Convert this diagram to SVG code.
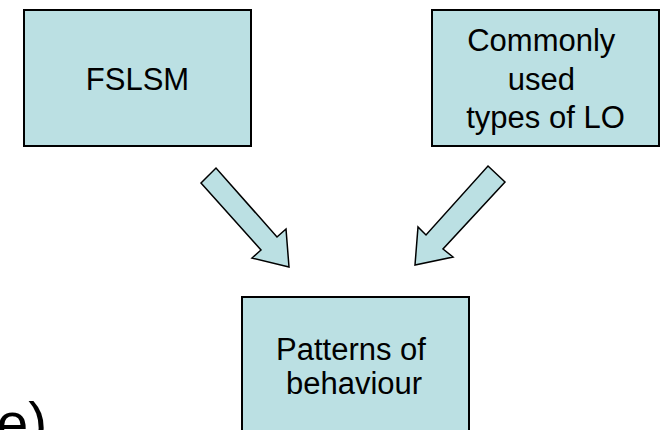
<svg xmlns="http://www.w3.org/2000/svg" width="661" height="430" viewBox="0 0 661 430">
<style>
.box{fill:#BBE0E3;stroke:#000;stroke-width:2}
.arr{fill:#BBE0E3;stroke:#000;stroke-width:1.5;stroke-linejoin:miter}
.t{font-family:"Liberation Sans",Arial,sans-serif;font-size:31px;fill:#000;text-anchor:middle}
</style>
<rect width="661" height="430" fill="#fff"/>
<text x="-3.5" y="443" style="font-family:'Liberation Sans',Arial,sans-serif;font-size:57px;fill:#000">e)</text>
<g id="connectors">
<polygon class="arr" points="201,183 216,168 277,237 286,229 289,267 252,258 261,250"/>
<polygon class="arr" points="488,166 505,182 443,249 453,257 415,265 418,227 426,235"/>
</g>
<g id="node-fslsm">
<rect class="box" x="24" y="10" width="227" height="136"/>
<text class="t" x="137.5" y="90">FSLSM</text>
</g>
<g id="node-lo">
<rect class="box" x="432" y="10" width="227" height="136"/>
<text class="t" x="541.3" y="51">Commonly</text>
<text class="t" x="541.3" y="90">used</text>
<text class="t" x="545.5" y="128">types of LO</text>
</g>
<g id="node-patterns">
<rect class="box" x="242" y="297" width="227" height="140"/>
<text class="t" x="351" y="359.5">Patterns of</text>
<text class="t" x="354" y="393.5">behaviour</text>
</g>
</svg>
